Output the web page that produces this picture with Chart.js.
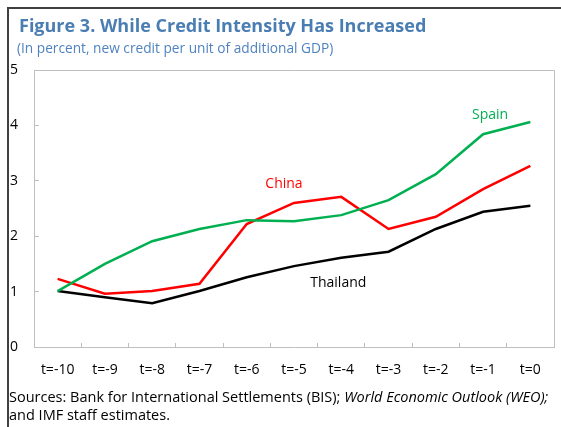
<!DOCTYPE html>
<html>
<head>
<meta charset="utf-8">
<script src="https://cdn.jsdelivr.net/npm/chart.js@4.4.1/dist/chart.umd.min.js"></script>
<style>
  html, body { margin: 0; padding: 0; background: #ffffff; }
  #wrap { position: relative; width: 561px; height: 427px; }
</style>
</head>
<body>
<div id="wrap"><canvas id="creditChart" width="561" height="427"></canvas></div>
<script>
// credit intensity: new credit per unit of additional GDP
var periods = ["t=-10", "t=-9", "t=-8", "t=-7", "t=-6", "t=-5", "t=-4", "t=-3", "t=-2", "t=-1", "t=0"];
var spain = [1.01, 1.50, 1.91, 2.13, 2.29, 2.27, 2.38, 2.65, 3.12, 3.84, 4.06];
var china = [1.23, 0.96, 1.01, 1.14, 2.22, 2.60, 2.71, 2.13, 2.35, 2.85, 3.27];
var thailand = [1.01, 0.90, 0.79, 1.01, 1.26, 1.46, 1.61, 1.72, 2.13, 2.44, 2.55];
var yTicks = [0, 1, 2, 3, 4, 5];

var titleText = "Figure 3. While Credit Intensity Has Increased";
var subtitleText = "(In percent, new credit per unit of additional GDP)";
var sourceParts = [
  { text: "Sources: Bank for International Settlements (BIS); ", italic: false },
  { text: "World Economic Outlook (WEO);", italic: true }
];
var sourceLine2 = "and IMF staff estimates.";

var fontFamily = "'Open Sans', 'Noto Sans', sans-serif";
var green = "#00b050";
var red = "#ff0000";
var black = "#000000";
var axisGray = "#bfbfbf";

// series names written next to their lines
var seriesLabels = [
  { text: "Spain", dataset: 0, index: 9, dx: 7, dy: -19, color: green },
  { text: "China", dataset: 1, index: 5, dx: -10, dy: -19, color: red },
  { text: "Thailand", dataset: 2, index: 6, dx: -3, dy: 25, color: black }
];

var decorations = {
  id: "decorations",
  afterDraw: function (chart) {
    var ctx = chart.ctx;
    var area = chart.chartArea;
    ctx.save();

    // outer frame on the left and top
    ctx.strokeStyle = "#404040";
    ctx.lineWidth = 2;
    ctx.beginPath();
    ctx.moveTo(8, 427);
    ctx.lineTo(8, 8);
    ctx.lineTo(561, 8);
    ctx.stroke();

    // top and right edges of the plot box
    ctx.strokeStyle = axisGray;
    ctx.lineWidth = 1;
    ctx.beginPath();
    ctx.moveTo(Math.round(area.left) + 0.5, Math.round(area.top) + 0.5);
    ctx.lineTo(Math.round(area.right) + 0.5, Math.round(area.top) + 0.5);
    ctx.lineTo(Math.round(area.right) + 0.5, Math.round(area.bottom));
    ctx.stroke();

    // headings
    ctx.textAlign = "left";
    ctx.textBaseline = "alphabetic";
    ctx.fillStyle = "#4a7eb3";
    ctx.font = "bold 18px " + fontFamily;
    ctx.fillText(titleText, 19, 32);
    ctx.fillStyle = "#4f83bf";
    ctx.font = "13.7px " + fontFamily;
    ctx.fillText(subtitleText, 17, 53);

    // sources note
    ctx.fillStyle = "#000000";
    var x = 9;
    sourceParts.forEach(function (p) {
      ctx.font = (p.italic ? "italic " : "") + "14.5px " + fontFamily;
      ctx.fillText(p.text, x, 402);
      x += ctx.measureText(p.text).width;
    });
    ctx.font = "14.5px " + fontFamily;
    ctx.fillText(sourceLine2, 9, 420);

    // series names
    ctx.textAlign = "center";
    ctx.textBaseline = "middle";
    ctx.font = "14px " + fontFamily;
    var xs = chart.scales.x;
    var ys = chart.scales.y;
    seriesLabels.forEach(function (l) {
      var v = chart.data.datasets[l.dataset].data[l.index];
      ctx.fillStyle = l.color;
      ctx.fillText(l.text, xs.getPixelForValue(l.index) + l.dx, ys.getPixelForValue(v) + l.dy);
    });

    ctx.restore();
  }
};

function lineSet(label, values, color) {
  return {
    label: label,
    data: values,
    borderColor: color,
    backgroundColor: color,
    borderWidth: 2.5,
    pointRadius: 0,
    tension: 0,
    fill: false
  };
}

var ctx = document.getElementById("creditChart").getContext("2d");
var chart = new Chart(ctx, {
  type: "line",
  data: {
    labels: periods,
    datasets: [
      lineSet("Spain", spain, green),
      lineSet("China", china, red),
      lineSet("Thailand", thailand, black)
    ]
  },
  options: {
    responsive: false,
    animation: false,
    layout: { padding: { top: 70, right: 7, left: 10, bottom: 0 } },
    plugins: {
      legend: { display: false },
      tooltip: { enabled: false }
    },
    scales: {
      x: {
        type: "category",
        offset: true,
        afterFit: function (scale) { scale.height = 80; },
        grid: {
          offset: true,
          drawOnChartArea: false,
          tickLength: -4,
          color: axisGray
        },
        border: { color: axisGray, width: 1 },
        ticks: {
          color: "#000000",
          font: { family: fontFamily, size: 14 },
          padding: 19,
          maxRotation: 0,
          autoSkip: false
        }
      },
      y: {
        min: 0,
        max: 5,
        afterFit: function (scale) { scale.width = 24; },
        afterBuildTicks: function (scale) {
          scale.ticks = yTicks.map(function (v) { return { value: v }; });
        },
        grid: {
          drawOnChartArea: false,
          tickLength: -5,
          color: axisGray
        },
        border: { color: axisGray, width: 1 },
        ticks: {
          color: "#000000",
          crossAlign: "far",
          font: { family: fontFamily, size: 14 }
        }
      }
    }
  },
  plugins: [decorations]
});
</script>
</body>
</html>
